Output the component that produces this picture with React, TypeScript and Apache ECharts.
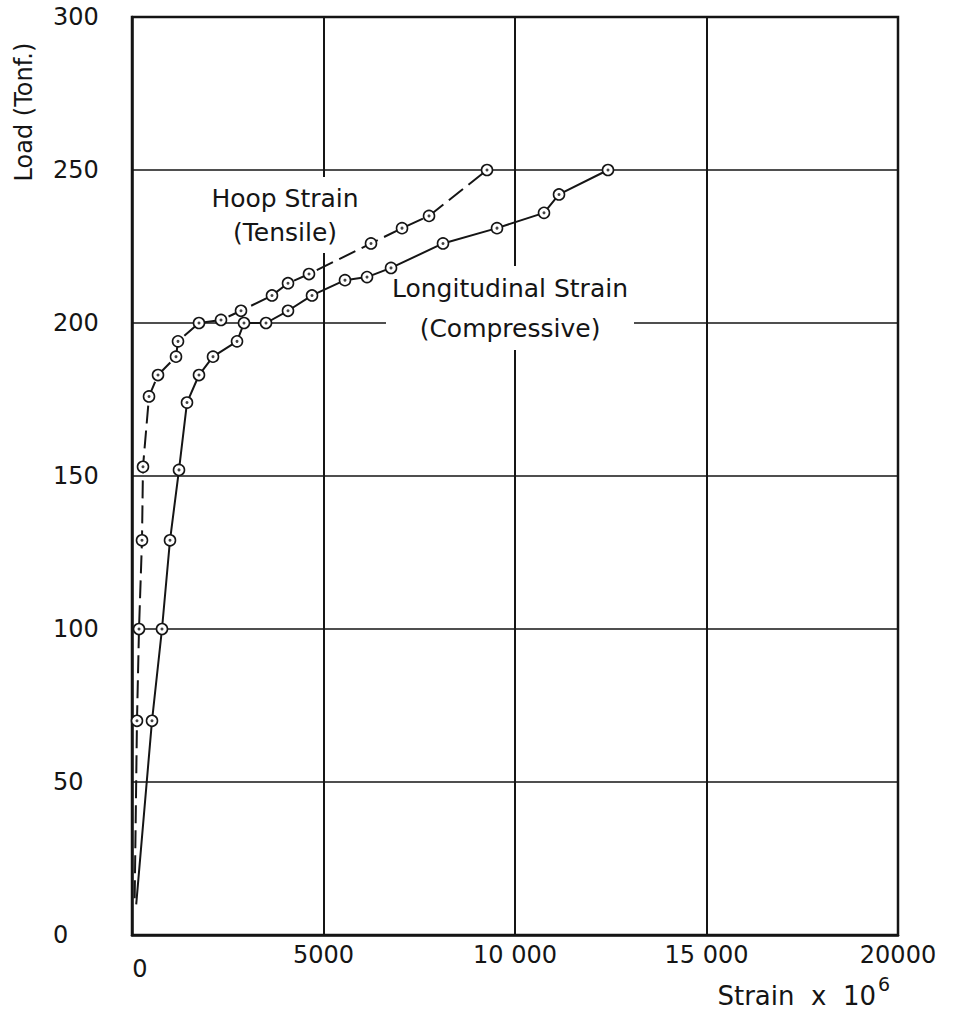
import React, { useEffect, useRef } from "react";
import * as echarts from "echarts";

// Hoop strain (tensile) readings: strain x 10^6 vs load in tonf
const hoopStrain = [70, 130, 183, 261, 287, 444, 679, 1149, 1201, 1749, 2324, 2846, 3655, 4073, 4621, 6240, 7050, 7755, 9269];
const hoopLoad = [12, 70, 100, 129, 153, 176, 183, 189, 194, 200, 201, 204, 209, 213, 216, 226, 231, 235, 250];

// Longitudinal strain (compressive) readings
const longStrain = [110, 522, 783, 992, 1227, 1436, 1749, 2115, 2742, 2924, 3499, 4073, 4700, 5561, 6136, 6763, 8120, 9530, 10757, 11149, 12428];
const longLoad = [10, 70, 100, 129, 152, 174, 183, 189, 194, 200, 200, 204, 209, 214, 215, 218, 226, 231, 236, 242, 250];

// Axis tick labels
const strainTickLabels: Record<number, string> = {
  0: "0",
  5000: "5000",
  10000: "10 000",
  15000: "15 000",
  20000: "20000",
};

const FONT = "DejaVu Sans";
const INK = "#151515";

function withStartPoint(xs: number[], ys: number[]) {
  // the first reading is the curve's origin and carries no marker
  return xs.map((x, i) => (i === 0 ? { value: [x, ys[i]], symbol: "none" } : [x, ys[i]]));
}

function markedPoints(xs: number[], ys: number[]) {
  return xs.slice(1).map((x, i) => [x, ys[i + 1]]);
}

export default function App() {
  const ref = useRef<HTMLDivElement>(null);

  useEffect(() => {
    const chart = echarts.init(ref.current!, null, { renderer: "svg" });

    const pointStyle = {
      color: "#ffffff",
      borderColor: INK,
      borderWidth: 1.6,
    };

    chart.setOption({
      animation: false,
      backgroundColor: "#ffffff",
      grid: {
        left: 132,
        top: 17,
        right: 67,
        bottom: 90,
        show: true,
        borderColor: INK,
        borderWidth: 2.5,
        backgroundColor: "transparent",
      },
      xAxis: {
        type: "value",
        min: 0,
        max: 20000,
        interval: 5000,
        axisLine: { show: true, lineStyle: { color: INK, width: 2.5 } },
        axisTick: { show: false },
        splitLine: { show: true, lineStyle: { color: INK, width: 2 } },
        axisLabel: {
          margin: 8,
          color: INK,
          fontFamily: FONT,
          fontSize: 24,
          formatter: (v: number) => (v === 0 ? "{z|0}" : strainTickLabels[v] ?? String(v)),
          rich: {
            z: { fontFamily: FONT, fontSize: 24, color: INK, padding: [14, 0, 0, 16] },
          },
        },
      },
      yAxis: {
        type: "value",
        min: 0,
        max: 300,
        interval: 50,
        axisLine: { show: true, lineStyle: { color: INK, width: 2.5 } },
        axisTick: { show: false },
        splitLine: { show: true, lineStyle: { color: INK, width: 1.5 } },
        axisLabel: {
          margin: 79,
          align: "left",
          color: INK,
          fontFamily: FONT,
          fontSize: 24,
        },
      },
      graphic: [
        {
          type: "text",
          x: 24,
          y: 112,
          rotation: Math.PI / 2,
          z: 5,
          style: {
            text: "Load (Tonf.)",
            fill: INK,
            font: `24px "${FONT}"`,
            align: "center",
            verticalAlign: "middle",
          },
        },
        {
          type: "text",
          x: 285,
          y: 215,
          z: 1,
          style: {
            text: "Hoop Strain\n(Tensile)",
            fill: INK,
            font: `25px "${FONT}"`,
            align: "center",
            verticalAlign: "middle",
            lineHeight: 34,
            backgroundColor: "#ffffff",
            padding: [4, 4],
          },
        },
        {
          type: "text",
          x: 510,
          y: 308,
          z: 1,
          style: {
            text: "Longitudinal Strain\n(Compressive)",
            fill: INK,
            font: `25px "${FONT}"`,
            align: "center",
            verticalAlign: "middle",
            lineHeight: 40,
            backgroundColor: "#ffffff",
            padding: [2, 6],
          },
        },
        {
          type: "text",
          x: 876,
          y: 996,
          z: 5,
          style: {
            text: "Strain  x  10",
            fill: INK,
            font: `26px "${FONT}"`,
            align: "right",
            verticalAlign: "middle",
          },
        },
        {
          type: "text",
          x: 878,
          y: 984,
          z: 5,
          style: {
            text: "6",
            fill: INK,
            font: `19px "${FONT}"`,
            align: "left",
            verticalAlign: "middle",
          },
        },
      ],
      series: [
        {
          name: "Hoop Strain (Tensile)",
          type: "line",
          z: 3,
          data: withStartPoint(hoopStrain, hoopLoad),
          symbol: "circle",
          symbolSize: 11,
          lineStyle: { color: INK, width: 2, type: [18, 7] },
          itemStyle: pointStyle,
        },
        {
          name: "Longitudinal Strain (Compressive)",
          type: "line",
          z: 3,
          data: withStartPoint(longStrain, longLoad),
          symbol: "circle",
          symbolSize: 11,
          lineStyle: { color: INK, width: 2, type: "solid" },
          itemStyle: pointStyle,
        },
        {
          name: "hoop centres",
          type: "scatter",
          z: 4,
          silent: true,
          data: markedPoints(hoopStrain, hoopLoad),
          symbol: "circle",
          symbolSize: 3,
          itemStyle: { color: INK },
        },
        {
          name: "longitudinal centres",
          type: "scatter",
          z: 4,
          silent: true,
          data: markedPoints(longStrain, longLoad),
          symbol: "circle",
          symbolSize: 3,
          itemStyle: { color: INK },
        },
      ],
    });

    return () => chart.dispose();
  }, []);

  return (
    <div
      ref={ref}
      style={{ position: "absolute", left: 0, top: 0, width: 965, height: 1025, background: "#ffffff" }}
    />
  );
}
